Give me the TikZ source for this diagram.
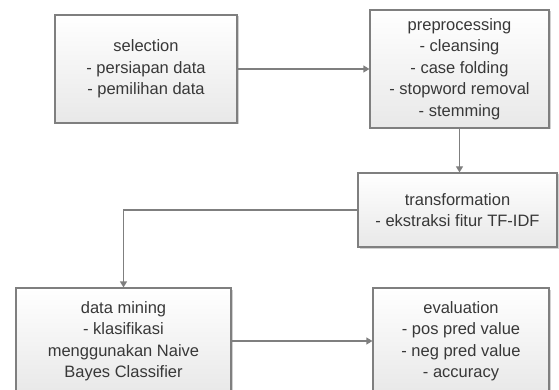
\documentclass[tikz,border=0pt]{standalone}
\usepackage{fontspec}
\setmainfont{Liberation Sans}
\usetikzlibrary{arrows.meta,shadows}
\definecolor{edge}{HTML}{7F7F7F}
\begin{document}
\begin{tikzpicture}[x=1pt,y=-1pt,
  stagebox/.style={draw=edge, line width=1.2pt, rectangle, top color=white, bottom color=black!9,
    drop shadow={shadow xshift=1.5pt, shadow yshift=-1.5pt, fill=black!30, opacity=0.6},
    align=center, inner sep=0pt, font=\fontsize{16.5}{21.5}\selectfont, text=black!78},
  link/.style={draw=edge, line width=1.2pt, -{Triangle[length=6pt,width=7pt]}}]
\useasboundingbox (0,0) rectangle (559,390);
\clip (0,0) rectangle (559,390);
\node[stagebox, minimum width=182pt, minimum height=108pt] (sel) at (146,69) {selection\\- persiapan data\\- pemilihan data};
\node[stagebox, minimum width=179pt, minimum height=118pt] (pre) at (459.5,69) {preprocessing\\- cleansing\\- case folding\\- stopword removal\\- stemming};
\node[stagebox, minimum width=199pt, minimum height=74pt] (tra) at (457.5,210) {transformation\\- ekstraksi fitur TF-IDF};
\node[stagebox, minimum width=215pt, minimum height=106pt] (dm) at (123.5,341) {data mining\\- klasifikasi\\menggunakan Naive\\Bayes Classifier};
\node[stagebox, minimum width=176pt, minimum height=106pt] (ev) at (461,341) {evaluation\\- pos pred value\\- neg pred value\\- accuracy};
\draw[link] (sel.east) -- (pre.west);
\draw[link] (pre.south) -- (pre.south |- tra.north);
\draw[link] (tra.west) -| (dm.north);
\draw[link] (dm.east) -- (ev.west);
\end{tikzpicture}
\end{document}
